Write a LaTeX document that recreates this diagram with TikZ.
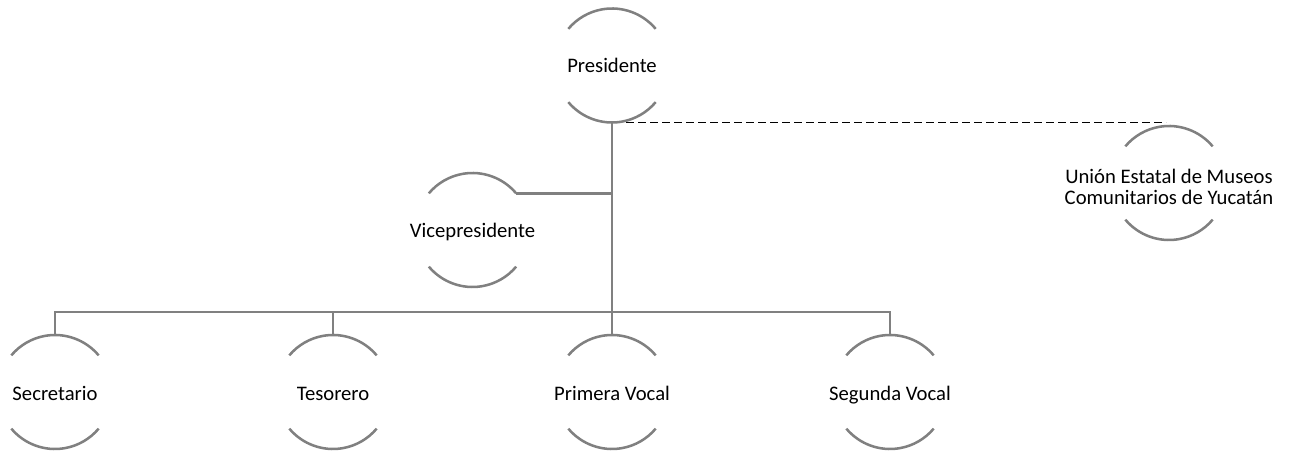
\documentclass[tikz,border=0pt]{standalone}
\usepackage{fontspec}
\setmainfont{Carlito}
\usetikzlibrary{calc}
\definecolor{lngray}{RGB}{128,128,128}
\tikzset{
  orgnode/.style={circle,minimum size=85.5pt,inner sep=0pt,outer sep=0pt},
  orgtext/.style={font=\fontsize{15.5}{15.8}\selectfont,align=center,text=black,inner sep=0pt,anchor=base},
  arcline/.style={draw=lngray,line width=1.9pt},
  conn/.style={draw=lngray,line width=2.2pt},
  dashconn/.style={draw=black,line width=1.4pt,dash pattern=on 6pt off 3pt}
}
\newcommand\orgarcs[1]{%
  \draw[arcline] (#1.40) arc[start angle=40,end angle=140,radius=42.75pt];
  \draw[arcline] (#1.220) arc[start angle=220,end angle=320,radius=42.75pt];
}
\begin{document}
\begin{tikzpicture}[x=0.75pt,y=0.75pt]
\useasboundingbox (0,0) rectangle (1292,450);
\node[orgnode] (pres) at (612,384.5) {};
\node[orgnode] (vice) at (472.5,220) {};
\node[orgnode] (union) at (1169,267) {};
\node[orgnode] (sec) at (55,58) {};
\node[orgnode] (tes) at (333,58) {};
\node[orgnode] (prim) at (612,58) {};
\node[orgnode] (seg) at (890,58) {};
\node[orgtext] (prest) at ($(pres.center)+(0,-7.5)$) {Presidente};
\node[orgtext] (vicet) at ($(vice.center)+(0,-7.5)$) {Vicepresidente};
\node[orgtext] (uniont) at ($(union.center)+(0,-22)$) {Unión Estatal de Museos\\Comunitarios de Yucatán};
\node[orgtext] (sect) at ($(sec.center)+(0,-8)$) {Secretario};
\node[orgtext] (test) at ($(tes.center)+(0,-8)$) {Tesorero};
\node[orgtext] (primt) at ($(prim.center)+(0,-8)$) {Primera Vocal};
\node[orgtext] (segt) at ($(seg.center)+(0,-8)$) {Segunda Vocal};
\foreach \n in {pres,vice,union,sec,tes,prim,seg}{\orgarcs{\n}}
\coordinate (bus) at (612,138);
\draw[conn] (pres.south) -- (pres.south |- bus);
\draw[conn] (vice.40) -- (vice.40 -| pres.south);
\draw[conn] (sec.north) -- (sec.north |- bus) -- (seg.north |- bus) -- (seg.north);
\draw[conn] (tes.north) -- (tes.north |- bus);
\draw[conn] (prim.north) -- (prim.north |- bus);
\draw[dashconn] ($(pres.south)+(14,0)$) -- ($(pres.south -| union.north)+(-3,0)$);
\end{tikzpicture}
\end{document}
